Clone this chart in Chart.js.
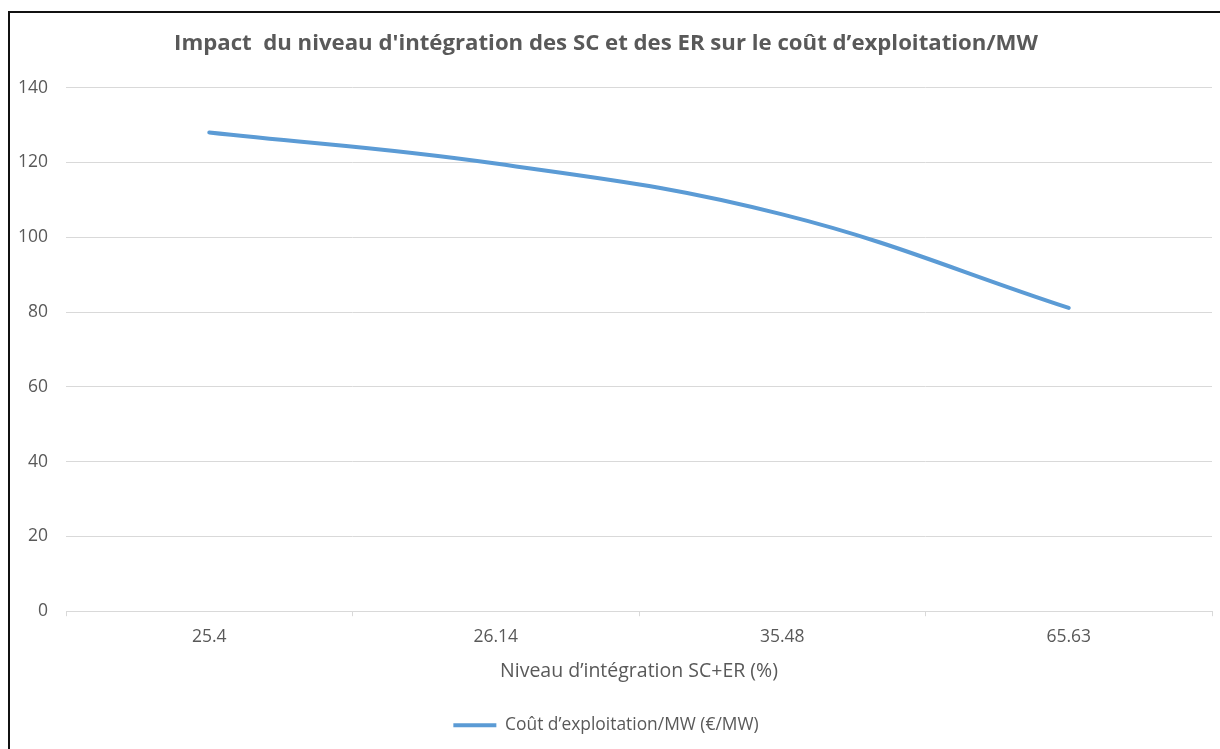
<!DOCTYPE html>
<html lang="fr">
<head>
<meta charset="utf-8">
<title>Coût d'exploitation/MW</title>
<script src="https://cdn.jsdelivr.net/npm/chart.js@4.4.1/dist/chart.umd.min.js"></script>
<style>
  html, body { margin: 0; padding: 0; background: #fff; overflow: hidden; }
  #frame {
    position: absolute; left: 8px; top: 11px; width: 1240px; height: 760px;
    border-left: 2px solid #111; border-top: 2px solid #111;
  }
  #wrap { position: absolute; left: 0; top: 0; width: 1220px; height: 749px; }
</style>
</head>
<body>
<div id="frame"></div>
<div id="wrap"><canvas id="chart"></canvas></div>
<script>
// data
const categories = ["25.4", "26.14", "35.48", "65.63"];
const coutValues = [128, 119.7, 106.1, 81.1];
const yTicks = [0, 20, 40, 60, 80, 100, 120, 140];

const titleText = "Impact  du niveau d'intégration des SC et des ER sur le coût d’exploitation/MW";
const xTitle = "Niveau d’intégration SC+ER (%)";
const seriesName = "Coût d’exploitation/MW (€/MW)";

const grey = "#595959";
const gridColor = "#d9d9d9";
const blue = "#5b9bd5";
const FONT = "'Open Sans', sans-serif";

const ctx = document.getElementById("chart");

new Chart(ctx, {
  type: "line",
  data: {
    labels: categories,
    datasets: [
      {
        label: seriesName,
        data: coutValues,
        borderColor: blue,
        backgroundColor: blue,
        borderWidth: 4,
        borderCapStyle: "round",
        tension: 0.4,
        pointRadius: 0,
        fill: false,
      },
    ],
  },
  options: {
    responsive: true,
    maintainAspectRatio: false,
    animation: false,
    layout: { padding: { left: 0, right: 8, top: 10, bottom: 5 } },
    plugins: {
      title: {
        display: true,
        text: titleText,
        color: grey,
        font: { family: FONT, size: 22.2, weight: "bold" },
        padding: { top: 20, bottom: 31 },
      },
      legend: {
        position: "bottom",
        labels: {
          color: grey,
          font: { family: FONT, size: 17.4 },
          usePointStyle: true,
          pointStyle: "line",
          pointStyleWidth: 43,
          boxHeight: 4,
          padding: 10,
        },
      },
      tooltip: { enabled: false },
    },
    scales: {
      x: {
        offset: true,
        grid: {
          offset: true,
          drawOnChartArea: false,
          drawTicks: true,
          tickLength: 5,
          color: gridColor,
        },
        border: { display: true, color: gridColor },
        ticks: { color: grey, font: { family: FONT, size: 17.5 }, padding: 10 },
        title: {
          display: true,
          text: xTitle,
          color: grey,
          font: { family: FONT, size: 19.5 },
          padding: { top: 3, bottom: 23 },
        },
      },
      y: {
        min: 0,
        max: 140,
        afterBuildTicks: (axis) => {
          axis.ticks = yTicks.map((v) => ({ value: v }));
        },
        grid: { color: gridColor, drawTicks: false, lineWidth: 1 },
        border: { display: false },
        ticks: { color: grey, font: { family: FONT, size: 17.5 }, padding: 18 },
      },
    },
  },
});
</script>
</body>
</html>
